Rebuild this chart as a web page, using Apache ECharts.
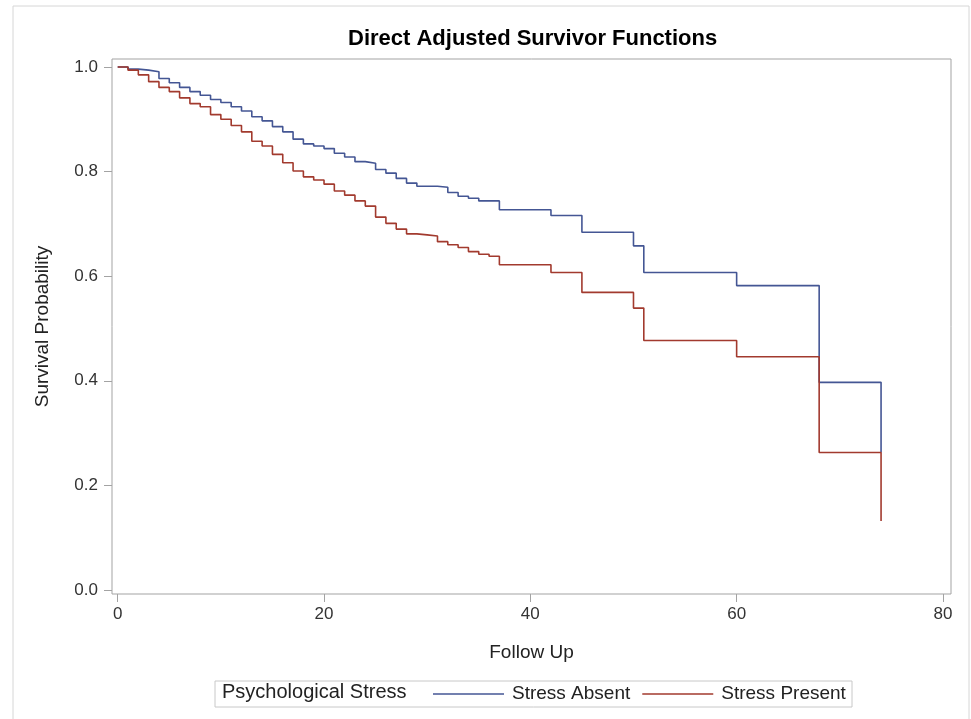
<!DOCTYPE html>
<html>
<head>
<meta charset="utf-8">
<title>Direct Adjusted Survivor Functions</title>
<script src="https://cdn.jsdelivr.net/npm/echarts@6/dist/echarts.min.js"></script>
<style>
  html, body { margin: 0; padding: 0; background: #fff; }
  #chart { width: 971px; height: 719px; }
</style>
</head>
<body>
<div id="chart"></div>
<script>
// follow-up times where at least one curve steps
const times = [0, 1, 2, 3, 4, 5, 6, 7, 8, 9, 10, 11, 12, 13, 14, 15, 16, 17, 18, 19,
  20, 21, 22, 23, 24, 25, 26, 27, 28, 29, 30, 31, 32, 33, 34, 35, 36, 37,
  42, 45, 50, 51, 60, 68, 74]

// survival probability from each time onwards
const stressAbsent = [1.000, 0.996, 0.994, 0.991, 0.978, 0.970, 0.961, 0.953, 0.946, 0.938,
  0.932, 0.924, 0.916, 0.905, 0.897, 0.886, 0.876, 0.862, 0.853, 0.849,
  0.844, 0.835, 0.828, 0.819, 0.816, 0.804, 0.797, 0.787, 0.778, 0.772,
  0.772, 0.770, 0.760, 0.753, 0.749, 0.744, 0.744, 0.727,
  0.716, 0.684, 0.658, 0.607, 0.582, 0.397, 0.263]

const stressPresent = [1.000, 0.994, 0.985, 0.972, 0.961, 0.953, 0.941, 0.930, 0.924, 0.909,
  0.900, 0.888, 0.876, 0.858, 0.849, 0.833, 0.817, 0.801, 0.790, 0.784,
  0.776, 0.763, 0.755, 0.744, 0.734, 0.713, 0.701, 0.690, 0.681, 0.679,
  0.677, 0.666, 0.660, 0.655, 0.647, 0.642, 0.638, 0.622,
  0.607, 0.569, 0.539, 0.477, 0.446, 0.263, 0.132]

const xTicks = [0, 20, 40, 60, 80]
const yTicks = [0, 0.2, 0.4, 0.6, 0.8, 1.0]

const seriesNames = ['Stress Absent', 'Stress Present']
const seriesColors = ['#445694', '#A23A2E']

const font = '"Liberation Sans", Arial, sans-serif'
const frameColor = '#a3a3a3'

const chart = echarts.init(document.getElementById('chart'), null, { renderer: 'canvas' })

const option = {
  backgroundColor: '#fff',
  animation: false,
  textStyle: { fontFamily: font },
  title: {
    text: 'Direct Adjusted Survivor Functions',
    left: 348,
    top: 28,
    padding: 0,
    textStyle: { fontFamily: font, fontSize: 22, fontWeight: 'bold', color: '#000' }
  },
  // grid = plot frame; the axes run a little past 0 / 80 and 0 / 1 like SAS does
  grid: {
    left: 112, right: 20, top: 59, bottom: 125,
    show: true, borderColor: frameColor, borderWidth: 1
  },
  xAxis: {
    type: 'value',
    min: -0.553,
    max: 80.78,
    name: 'Follow Up',
    nameLocation: 'middle',
    nameGap: 49,
    nameTextStyle: { fontFamily: font, fontSize: 19, color: '#222' },
    axisLine: { show: false, onZero: false },
    axisTick: { show: true, length: 8, customValues: xTicks, lineStyle: { color: frameColor } },
    axisLabel: { fontSize: 17, color: '#333', margin: 12, customValues: xTicks },
    splitLine: { show: false }
  },
  yAxis: {
    type: 'value',
    min: -0.0077,
    max: 1.0153,
    name: 'Survival Probability',
    nameLocation: 'middle',
    nameGap: 60,
    nameTextStyle: { fontFamily: font, fontSize: 19, color: '#222' },
    axisLine: { show: false, onZero: false },
    axisTick: { show: true, length: 8, customValues: yTicks, lineStyle: { color: frameColor } },
    axisLabel: { fontSize: 17, color: '#333', margin: 14, customValues: yTicks, formatter: v => v.toFixed(1) },
    splitLine: { show: false }
  },
  legend: {
    data: seriesNames,
    left: 433,
    top: 683,
    padding: 0,
    icon: 'rect',
    itemWidth: 71,
    itemHeight: 1.5,
    itemGap: 12,
    textStyle: { fontFamily: font, fontSize: 19, color: '#222', lineHeight: 22, padding: [0, 0, 0, 3] }
  },
  graphic: [
    // outer border of the picture
    { type: 'rect', shape: { x: 13, y: 6, width: 956, height: 730 },
      style: { fill: 'none', stroke: '#d6d6d6', lineWidth: 1 }, silent: true },
    // legend box + legend title
    { type: 'rect', shape: { x: 215, y: 681, width: 637, height: 26 },
      style: { fill: 'none', stroke: '#c8c8c8', lineWidth: 1 }, silent: true },
    { type: 'text', left: 222, top: 682,
      style: { text: 'Psychological Stress', font: '20px ' + font, fill: '#222' }, silent: true }
  ],
  series: [stressAbsent, stressPresent].map((vals, i) => ({
    name: seriesNames[i],
    type: 'line',
    step: 'end',
    showSymbol: false,
    data: times.map((t, j) => [t, vals[j]]),
    itemStyle: { color: seriesColors[i] },
    lineStyle: { color: seriesColors[i], width: 1.6 },
    z: 3
  }))
}

chart.setOption(option)
</script>
</body>
</html>
